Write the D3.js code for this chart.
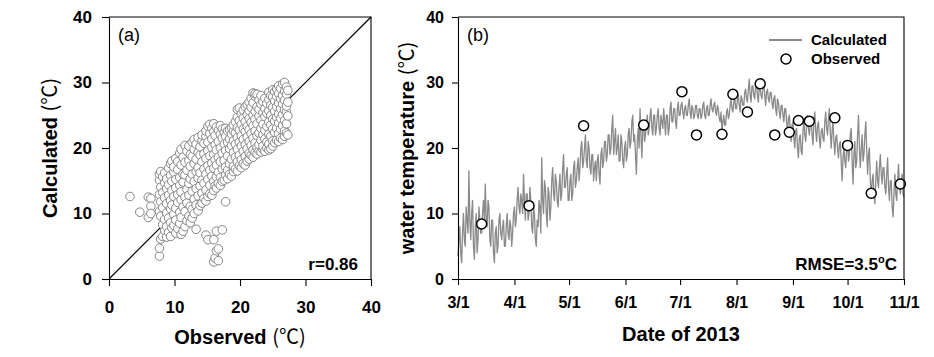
<!DOCTYPE html>
<html><head><meta charset="utf-8">
<script src="https://cdn.jsdelivr.net/npm/d3@7"></script>
<style>
body{margin:0;background:#fff;}
text{font-family:"Liberation Sans",Arial,sans-serif;}
</style></head>
<body><svg id="c" width="934" height="357"></svg>
<script>
// ---------- DATA ----------
// Panel (a): observed (x) vs calculated (y); each row = [observed, [calculated values]]
const scatterColumns = [
 [3.2,[12.6]],[4.7,[10.2]],[6.0,[12.5,9.4]],[6.4,[12.3,11.1,10.0]],
 [7.7,[3.5,4.7,10.3,12.9,15.1,16.0]],
 [7.9,[6.1,9.6,11.8,14.0,16.4]],
 [8.2,[6.5,8.3,10.9,13.2,15.6]],
 [8.5,[7.4,9.1,12.4,14.7,16.2]],
 [8.8,[6.4,8.0,10.1,11.5,13.8,15.3]],
 [9.1,[7.1,9.3,12.8,14.4,16.9]],
 [9.4,[6.5,8.6,10.7,12.0,15.8,17.6]],
 [9.6,[7.8,11.3,13.5,14.9,18.0]],
 [9.9,[8.2,9.9,12.6,16.3,17.1]],
 [10.2,[7.0,9.0,10.8,13.9,15.2,18.4]],
 [10.5,[7.7,11.7,12.9,16.7,17.9]],
 [10.8,[8.5,10.2,14.3,15.5,19.2]],
 [11.0,[6.8,9.4,12.1,13.3,17.4,19.8]],
 [11.3,[7.3,11.0,14.8,16.0,18.6]],
 [11.6,[8.0,10.3,12.5,15.9,17.8,20.4]],
 [11.9,[8.9,11.6,13.7,16.6,19.5]],
 [12.2,[9.6,12.8,14.6,18.1,20.3]],
 [12.4,[8.6,11.1,15.3,17.2,19.0]],
 [12.7,[9.3,10.6,13.4,16.0,18.7,20.9]],
 [13.0,[10.0,12.2,14.9,17.6,19.8,21.3]],
 [13.3,[7.6,11.3,13.8,16.4,18.3,20.6]],
 [13.6,[10.4,12.7,15.4,17.0,19.3,21.6]],
 [13.9,[11.2,14.2,16.2,18.9,20.2]],
 [14.2,[11.6,13.1,15.1,17.9,21.1,22.0]],
 [14.5,[12.3,14.6,16.8,19.1,20.7]],
 [14.8,[6.7,11.9,13.6,16.0,18.4,21.8,22.6]],
 [15.1,[6.0,12.6,15.2,17.3,19.6,20.9,23.3]],
 [15.4,[13.0,14.3,16.6,18.8,22.2,23.6]],
 [15.7,[12.8,15.7,17.7,20.1,21.4,23.0]],
 [16.0,[2.6,6.0,13.5,14.9,16.9,19.0,22.5,23.7]],
 [16.2,[3.2,14.2,18.2,20.5,21.9]],
 [16.4,[4.3,7.3,13.9,15.6,17.4,19.7,23.2]],
 [16.7,[2.8,4.6,14.6,16.3,18.6,21.0,22.7]],
 [17.0,[14.3,15.5,17.9,20.0,22.1,23.4]],
 [17.3,[7.5,14.9,16.8,19.2,21.5,22.9]],
 [17.6,[15.1,18.1,20.6,22.4]],
 [17.8,[11.8,15.9,17.1,19.6,21.8,23.0]],
 [18.1,[15.3,16.6,18.8,20.9,22.6]],
 [18.4,[16.0,17.6,19.9,21.4,22.8]],
 [18.7,[15.7,18.3,20.4,22.1,23.1]],
 [19.0,[16.4,17.2,19.3,21.1,22.6,23.5]],
 [19.3,[16.8,18.6,20.6,22.3,24.0]],
 [19.6,[16.5,17.9,19.8,21.6,23.1,24.7,25.9]],
 [19.9,[17.3,18.9,20.9,22.8,24.2,26.1]],
 [20.2,[17.0,18.2,20.3,21.9,23.6,25.2]],
 [20.5,[17.6,19.5,21.3,22.9,24.6,25.8]],
 [20.8,[17.4,18.7,20.5,22.5,24.0,26.3]],
 [21.1,[18.0,19.9,21.7,23.3,25.1,26.6]],
 [21.4,[18.3,19.2,21.0,22.8,24.5,25.7,27.0]],
 [21.7,[18.9,20.4,22.2,23.9,26.2,27.6]],
 [22.0,[18.6,19.7,21.5,23.4,25.0,26.9,28.4]],
 [22.3,[19.3,20.8,22.6,24.4,25.6,27.9,28.3]],
 [22.6,[19.1,20.1,21.9,23.7,26.3,28.2]],
 [22.9,[19.6,20.5,22.3,24.9,25.9,27.3]],
 [23.2,[19.4,21.2,23.0,24.2,26.7,28.0]],
 [23.5,[19.8,20.3,22.0,23.6,25.4,27.1]],
 [23.8,[19.5,21.4,22.7,24.8,26.0,27.6]],
 [24.1,[20.0,20.9,23.3,25.3,26.8]],
 [24.4,[19.7,20.6,22.1,24.0,25.7,27.4,28.5]],
 [24.7,[19.9,21.8,23.5,25.0,26.5,28.0]],
 [25.0,[20.3,21.1,22.9,24.4,26.2,27.8,28.9]],
 [25.3,[20.8,22.4,24.1,25.6,27.2,28.6]],
 [25.6,[21.2,23.0,24.7,26.3,27.9,29.0]],
 [25.9,[21.0,22.2,23.8,25.2,26.9,28.3,29.5]],
 [26.2,[21.5,22.9,24.5,26.0,27.5,29.1]],
 [26.5,[21.3,23.4,25.1,26.7,28.0,29.8]],
 [26.8,[21.8,22.6,24.2,25.8,27.3,28.7,30.0]],
 [27.1,[22.3,23.7,25.5,26.4,28.2,29.3]],
 [27.3,[22.0,24.9,27.0,28.8]]
];
const scatterTicks = [0,10,20,30,40];
const correlationLabel = "r=0.86";

// Panel (b): calculated water temperature from 2013-03-01, values at 00h and 12h of each day
const seriesStart = "2013-03-01";
const calcMar = [3.5,8,2.5,10,5,9,16.5,6,12,3,10,6,9,7,12,14.5,8,11,5,9,2.5,8,5,10,6,9,5,10,6,8,7];
const noonMar = [6,4,7,6,11,7,9,10,5,8,4,11,7,10,9,9,12,6,9,4,7,4,9,7,8,5,8,7,9,5,10];
const calcApr = [11,9,14,10,12,16,9,13,10,12,7,10,5,8,11,18.5,10,14,8,13,11,17,12,15,11,16,13,19,14,17];
const noonApr = [8,12,11,13,10,12,13,9,14,8,11,6,9,12,7,12,15,10,14,9,15,13,16,12,14,12,17,14,16,12];
const calcMay = [12,16,13,18,15,18.5,17,21,18,22,17,20,16,19,17,15,19,14.5,20,18,21,19,22,20,25,21,19,22,18,21,17];
const noonMay = [15,12,17,14,17,15,20,17,20,18,21,17,19,15,18,18,16,19,17,21,18,22,19,23,19,23,20,18,22,18,20];
const calcJun = [21,19,23,21,25,22,16,23,26,18.5,24,22,25,23,26,22,25,23,26,22,24,26,22,25,23,27,24,26,23,27];
const noonJun = [18,22,20,24,21,19,21,20,22,23,21,24,22,25,23,25,22,25,23,25,23,24,25,22,26,24,26,24,26,25];
const calcJul = [25,27,24.5,26.5,25,27.5,24.5,26,25,26.5,24.5,26,25,27,24.5,26.5,25,27.5,25.5,27,25,26,24,22.5,25,23.5,26,25,27.5,25.5,28];
const noonJul = [26.5,25.5,26,25,26.5,25.5,26.5,24.5,26.5,25,26,24.5,26.5,25,26,25,26.5,26,26.5,25.5,26.5,24.5,25.5,24,23.5,25.5,24.5,26.5,26,27,26];
const calcAug = [26,28,25.5,27.5,26.5,29,27,30.5,27,29.5,27.5,30,27,29,27.5,30,26.5,29,27,28.5,26,28,25,27,24.5,26.5,24,26,22.5,25,21];
const noonAug = [27.5,26.5,28,26.5,28.5,27.5,29,28,29.5,28,29.5,28,29.5,28,29.5,28,28.5,27.5,28.5,27,27.5,26,27.5,25.5,26.5,25,26,24,24.5,23,23.5];
const calcSep = [24,20,23,18.5,22,19,24,21,25,22,24.5,20.5,25.5,21,24,20,23,21,25.5,22,26,20,24,19,22,18.5,21,15,20,17];
const noonSep = [21.5,22.5,20,21.5,19.5,22.5,22,23.5,23,23.5,22,24,22.5,23.5,21.5,22.5,21.5,24,23,24.5,22.5,22.5,21,21.5,20,20.5,18,18.5,18,20];
const calcOct = [21,19,23,14.5,21,18,25,17,22,19,24,16,20,12.5,16,11.5,18,14,19,14.5,17,13,18.5,12,15,9.5,16,12,17.5,13,16];
const noonOct = [18,22,18,19,17,22,20,20,18,22,20,19,15,15,13,15,15,17,16,17,14,16,14,15,11,13,13,15,14,15,13];
const calcNov = [12.5];
const noonNov = [];

const observedDates = ["2013-03-14","2013-04-09","2013-05-09","2013-06-11","2013-07-02","2013-07-10","2013-07-24","2013-07-30","2013-08-07","2013-08-14","2013-08-22","2013-08-30","2013-09-04","2013-09-10","2013-09-24","2013-10-01","2013-10-14","2013-10-30"];
const observedValues = [8.4,11.2,23.4,23.5,28.6,22.0,22.1,28.2,25.5,29.8,22.0,22.4,24.2,24.1,24.6,20.4,13.1,14.5];
const tempTicks = [0,10,20,30,40];
const rmseLabel = "RMSE=3.5";

// ---------- DRAW ----------
const svg = d3.select("#c");
const parse = d3.timeParse("%Y-%m-%d");
const BOLD = "bold";

// Panel (a)
const xa = d3.scaleLinear().domain([0,40]).range([109,371]);
const ya = d3.scaleLinear().domain([0,40]).range([279,17]);
const ga = svg.append("g");

ga.append("line").attr("x1",xa(0)).attr("y1",ya(0)).attr("x2",xa(40)).attr("y2",ya(40))
  .attr("stroke","#000").attr("stroke-width",1.2);

const pts = scatterColumns.flatMap(([o, cs]) => cs.map(c => ({o, c})));
ga.append("g").selectAll("circle").data(pts).join("circle")
  .attr("cx", d => xa(d.o)).attr("cy", d => ya(d.c)).attr("r", 4.3)
  .attr("fill","#fff").attr("stroke","#858585").attr("stroke-width",1);

function styleAxis(g, fs){
  g.attr("font-family",null).attr("font-size",null);
  g.select(".domain").attr("stroke","#000").attr("stroke-width",1.1);
  g.selectAll(".tick line").attr("stroke","#000").attr("stroke-width",1.1);
  g.selectAll(".tick text").attr("fill","#000").attr("font-weight","bold")
   .attr("font-size",fs).attr("font-family",'"Liberation Sans",Arial,sans-serif');
}
const axA_x = ga.append("g").attr("transform",`translate(0,${ya(0)})`)
  .call(d3.axisBottom(xa).tickValues(scatterTicks).tickSize(7).tickSizeOuter(0).tickFormat(d3.format("d")));
styleAxis(axA_x,17); axA_x.selectAll(".tick text").attr("y",34).attr("dy",0);
const axA_y = ga.append("g").attr("transform",`translate(${xa(0)},0)`)
  .call(d3.axisLeft(ya).tickValues(scatterTicks).tickSize(7).tickSizeOuter(0).tickFormat(d3.format("d")));
styleAxis(axA_y,17); axA_y.selectAll(".tick text").attr("x",-17);
ga.append("path").attr("d",`M${xa(0)},${ya(40)}H${xa(40)}V${ya(0)}`).attr("fill","none").attr("stroke","#000").attr("stroke-width",1.1);

ga.append("text").attr("x",118).attr("y",41).style("font-size","18px").text("(a)");
ga.append("text").attr("x",358).attr("y",270).attr("text-anchor","end").style("font-size","17px").style("font-weight",BOLD).text(correlationLabel);

function labelWithUnit(sel, main){
  sel.append("tspan").style("font-weight","bold").text(main+" ");
  sel.append("tspan").style("font-family",'"Noto Sans CJK KR",sans-serif').style("font-weight","normal").text("(℃)");
}
labelWithUnit(ga.append("text").attr("x",240).attr("y",344).attr("text-anchor","middle").style("font-size","20px"), "Observed");
labelWithUnit(ga.append("text").attr("transform","translate(57,148) rotate(-90)").attr("text-anchor","middle").style("font-size","20px"), "Calculated");

// Panel (b)
const t0 = parse(seriesStart);
const dayVals = [].concat(calcMar,calcApr,calcMay,calcJun,calcJul,calcAug,calcSep,calcOct,calcNov);
const noonVals = [].concat(noonMar,noonApr,noonMay,noonJun,noonJul,noonAug,noonSep,noonOct,noonNov);
const series = [];
dayVals.forEach((v,i) => {
  const d = d3.timeDay.offset(t0,i);
  series.push({d, v});
  if (i < noonVals.length) series.push({d: d3.timeHour.offset(d,12), v: noonVals[i]});
});
const obs = observedDates.map((s,i) => ({d: parse(s), v: observedValues[i]}));

const xb = d3.scaleTime().domain([parse("2013-03-01"), parse("2013-11-01")]).range([458,904]);
const yb = d3.scaleLinear().domain([0,40]).range([279,17]);
const gb = svg.append("g");

gb.append("path").datum(series)
  .attr("d", d3.line().x(d => xb(d.d)).y(d => yb(d.v)))
  .attr("fill","none").attr("stroke","#8a8a8a").attr("stroke-width",1.3).attr("stroke-linejoin","round");

gb.append("g").selectAll("circle").data(obs).join("circle")
  .attr("cx", d => xb(d.d)).attr("cy", d => yb(d.v)).attr("r",5)
  .attr("fill","#fff").attr("stroke","#000").attr("stroke-width",1.5);

const monthTicks = d3.timeMonth.range(parse("2013-03-01"), parse("2013-11-02"));
const axB_x = gb.append("g").attr("transform",`translate(0,${yb(0)})`)
  .call(d3.axisBottom(xb).tickValues(monthTicks).tickSize(6).tickSizeOuter(0).tickFormat(d3.timeFormat("%-m/%-d")));
styleAxis(axB_x,16); axB_x.selectAll(".tick text").attr("y",29).attr("dy",0);
const axB_y = gb.append("g").attr("transform",`translate(${xb.range()[0]},0)`)
  .call(d3.axisLeft(yb).tickValues(tempTicks).tickSize(6).tickSizeOuter(0).tickFormat(d3.format("d")));
styleAxis(axB_y,16); axB_y.selectAll(".tick text").attr("x",-14);
gb.append("path").attr("d",`M${xb.range()[0]},${yb(40)}H${xb.range()[1]}V${yb(0)}`).attr("fill","none").attr("stroke","#000").attr("stroke-width",1.1);

gb.append("text").attr("x",467).attr("y",41).style("font-size","18px").text("(b)");
const rm = gb.append("text").attr("x",897).attr("y",270).attr("text-anchor","end").style("font-size","17px").style("font-weight",BOLD);
rm.append("tspan").text(rmseLabel);
rm.append("tspan").attr("dy",-7).style("font-size","11px").text("o");
rm.append("tspan").attr("dy",7).text("C");

// legend
gb.append("line").attr("x1",769).attr("x2",802).attr("y1",40).attr("y2",40).attr("stroke","#8a8a8a").attr("stroke-width",2);
gb.append("circle").attr("cx",786).attr("cy",59).attr("r",5).attr("fill","#fff").attr("stroke","#000").attr("stroke-width",1.5);
gb.append("text").attr("x",811).attr("y",45).style("font-size","15px").style("font-weight",BOLD).text("Calculated");
gb.append("text").attr("x",811).attr("y",64).style("font-size","15px").style("font-weight",BOLD).text("Observed");

gb.append("text").attr("x",681).attr("y",341).attr("text-anchor","middle").style("font-size","20px").style("font-weight",BOLD).text("Date of 2013");
labelWithUnit(gb.append("text").attr("transform","translate(414,148) rotate(-90)").attr("text-anchor","middle").style("font-size","20px"), "water temperature");
</script></body></html>
